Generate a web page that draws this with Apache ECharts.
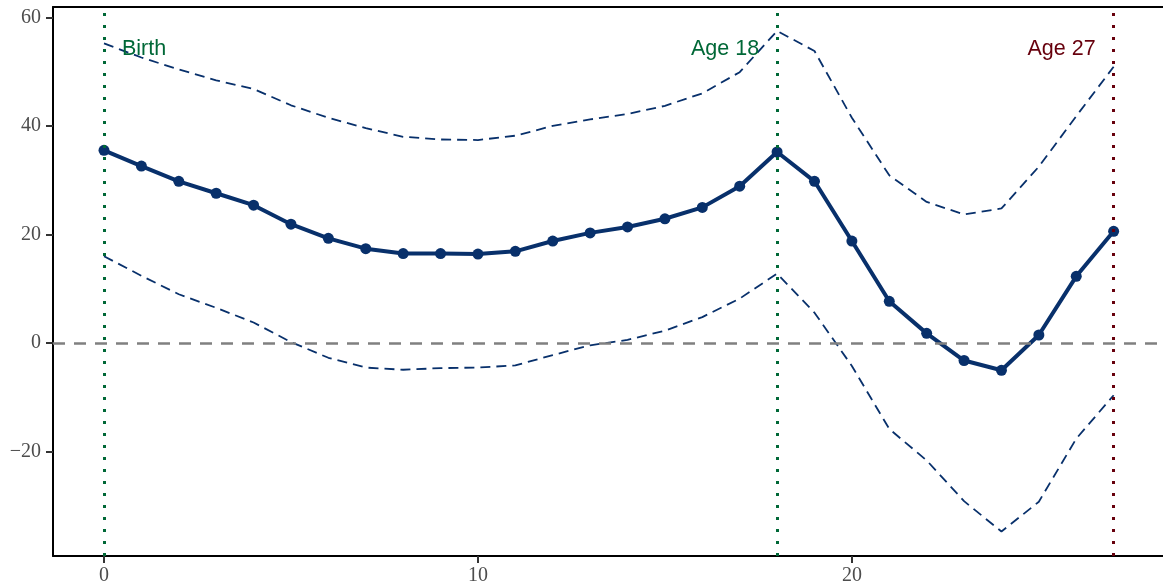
<!DOCTYPE html>
<html>
<head>
<meta charset="utf-8">
<script src="https://cdn.jsdelivr.net/npm/echarts@6/dist/echarts.min.js"></script>
<style>
  html, body { margin: 0; padding: 0; background: #fff; }
  #chart { width: 1163px; height: 587px; }
</style>
</head>
<body>
<div id="chart"></div>
<script>
// Age (years) on the x axis
const ages = [0, 1, 2, 3, 4, 5, 6, 7, 8, 9, 10, 11, 12, 13, 14, 15, 16, 17, 18, 19, 20, 21, 22, 23, 24, 25, 26, 27];
// Point estimate and confidence bounds by age
const estimate = [35.5, 32.6, 29.8, 27.6, 25.4, 21.9, 19.3, 17.4, 16.5, 16.5, 16.4, 16.9, 18.8, 20.3, 21.4, 22.9, 25.0, 28.9, 35.2, 29.8, 18.8, 7.7, 1.8, -3.2, -5.0, 1.5, 12.3, 20.6];
const upper = [55.2, 52.6, 50.4, 48.4, 46.8, 43.8, 41.5, 39.6, 38.0, 37.5, 37.4, 38.2, 40.0, 41.2, 42.2, 43.7, 46.0, 49.9, 57.5, 53.8, 41.5, 30.9, 26.0, 23.7, 24.8, 32.5, 41.8, 50.9];
const lower = [16.0, 12.4, 9.0, 6.5, 3.8, 0.2, -2.7, -4.5, -4.9, -4.6, -4.5, -4.1, -2.2, -0.4, 0.6, 2.3, 4.8, 8.2, 12.8, 5.6, -4.2, -15.8, -21.6, -29.1, -34.7, -29.2, -17.6, -9.6];
// Reference ages and their annotations
const refAges = [0, 18, 27];
const refLabels = ['Birth', 'Age 18', 'Age 27'];
// Axis ticks
const xTicks = [0, 10, 20];
const yTicks = [-20, 0, 20, 40, 60];

const NAVY = '#08306b';
const GREEN = '#006837';
const RED = '#67000d';
const refColors = [GREEN, GREEN, RED];
const labelY = 54.1;

const pair = (ys) => ages.map((a, i) => [a, ys[i]]);
const tickFont = { fontFamily: 'Liberation Serif', fontSize: 20, color: '#4d4d4d' };

const chart = echarts.init(document.getElementById('chart'), null, { renderer: 'canvas' });

chart.setOption({
  animation: false,
  backgroundColor: '#fff',
  grid: { left: 53, right: 0, top: 7, bottom: 31, containLabel: false },
  xAxis: [{
    type: 'value', min: -1.364, max: 28.32,
    axisLine: { show: true, onZero: false, lineStyle: { color: '#000', width: 2 } },
    axisTick: { show: true, length: 7, customValues: xTicks, lineStyle: { color: '#333', width: 2 } },
    axisLabel: { customValues: xTicks, margin: 10, ...tickFont },
    splitLine: { show: false }
  }, {
    type: 'value', position: 'top', min: -1.364, max: 28.32,
    axisLine: { show: true, onZero: false, lineStyle: { color: '#000', width: 2 } },
    axisTick: { show: false }, axisLabel: { show: false }, splitLine: { show: false }
  }],
  yAxis: {
    type: 'value', min: -39.2, max: 61.9,
    axisLine: { show: true, onZero: false, lineStyle: { color: '#000', width: 2 } },
    axisTick: { show: true, length: 7, customValues: yTicks, lineStyle: { color: '#333', width: 2 } },
    axisLabel: {
      customValues: yTicks, margin: 12, ...tickFont,
      formatter: (v) => (v < 0 ? '\u2212' + Math.abs(v) : String(v))
    },
    splitLine: { show: false }
  },
  series: [
    // zero line and vertical reference lines
    {
      type: 'line', data: [], silent: true, z: 1,
      markLine: {
        silent: true, symbol: 'none', label: { show: false },
        data: [
          { yAxis: 0, lineStyle: { color: '#808080', width: 2.5, type: [12, 9] } },
          ...refAges.map((a, i) => ({
            xAxis: a,
            lineStyle: { color: refColors[i], width: 3, type: [3, 9], cap: 'butt' }
          }))
        ]
      }
    },
    {
      name: 'upper', type: 'line', data: pair(upper), symbol: 'none', z: 2,
      lineStyle: { color: NAVY, width: 1.8, type: [10, 6] }
    },
    {
      name: 'lower', type: 'line', data: pair(lower), symbol: 'none', z: 2,
      lineStyle: { color: NAVY, width: 1.8, type: [10, 6] }
    },
    {
      name: 'estimate', type: 'line', data: pair(estimate), z: 3,
      symbol: 'circle', symbolSize: 11,
      itemStyle: { color: NAVY },
      lineStyle: { color: NAVY, width: 4 }
    },
    // annotations beside the reference lines
    {
      type: 'scatter', symbolSize: 0, z: 4, silent: true,
      itemStyle: { opacity: 1 },
      data: refAges.map((a, i) => ({
        value: [a, labelY],
        label: {
          show: true,
          formatter: refLabels[i],
          position: i === 0 ? 'right' : 'left',
          distance: 18,
          color: refColors[i],
          opacity: 1,
          fontFamily: 'Liberation Sans',
          fontSize: 21.5
        }
      }))
    }
  ]
});
</script>
</body>
</html>
